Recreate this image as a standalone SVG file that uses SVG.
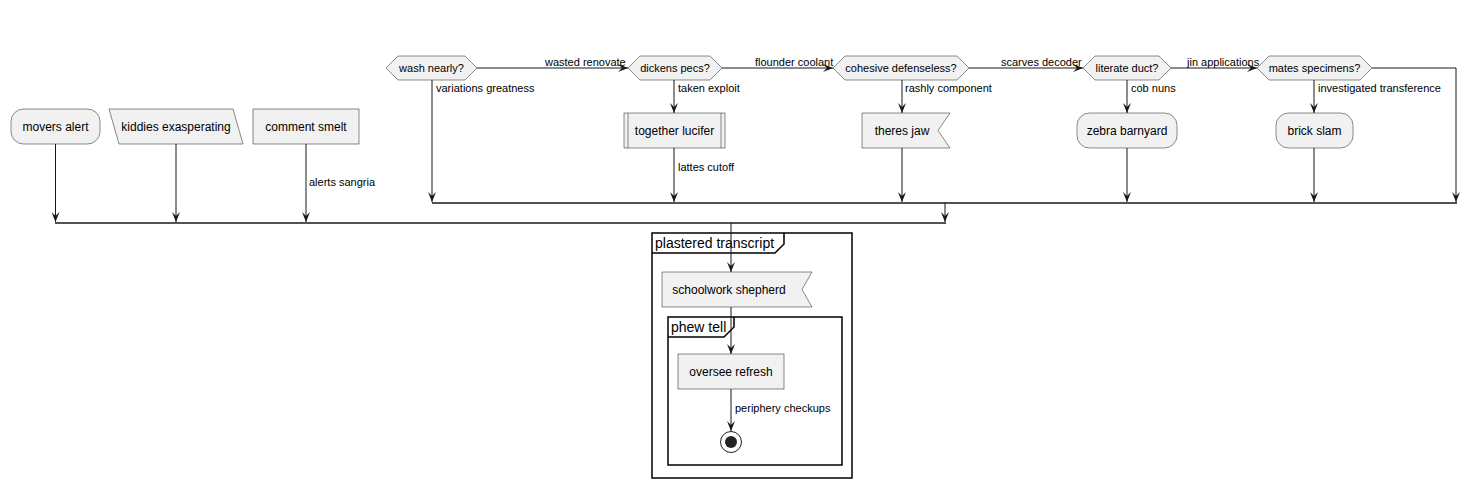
<svg xmlns="http://www.w3.org/2000/svg" width="1481" height="487" viewBox="0 0 1481 487">
<style>
.n{fill:#F1F1F1;stroke:#181818;stroke-width:0.5}
.t{font-family:"Liberation Sans",Arial,sans-serif;font-size:12px;fill:#000;text-anchor:middle}
.d{font-family:"Liberation Sans",Arial,sans-serif;font-size:11px;fill:#000;text-anchor:middle}
.l{font-family:"Liberation Sans",Arial,sans-serif;font-size:11px;fill:#000}
.e{fill:none;stroke:#181818;stroke-width:1}
.bar{fill:none;stroke:#181818;stroke-width:1.5}
.f{fill:none;stroke:#000;stroke-width:1.5}
.ft{font-family:"Liberation Sans",Arial,sans-serif;font-size:14px;fill:#000}
</style>
<defs>
<marker id="a" viewBox="0 0 10 8" refX="10" refY="4" markerWidth="10" markerHeight="8" markerUnits="userSpaceOnUse" orient="auto">
<path d="M0,0 L10,4 L0,8 L4,4 Z" fill="#181818"/>
</marker>
</defs>
<rect width="1481" height="487" fill="#fff"/>
<g id="frames">
<g id="plastered-transcript">
<rect class="f" x="652" y="233" width="200" height="245"/>
<path class="f" d="M652,253 L775,253 L784,244 L784,233"/>
<text class="ft" x="655" y="248">plastered transcript</text>
</g>
<g id="phew-tell">
<rect class="f" x="668" y="317" width="174" height="148"/>
<path class="f" d="M668,337 L724,337 L734,327 L734,317"/>
<text class="ft" x="671" y="332">phew tell</text>
</g>
</g>
<g id="connectors">
<line class="e" x1="55.5" y1="144" x2="55.5" y2="222" marker-end="url(#a)"/>
<line class="e" x1="176" y1="144" x2="176" y2="222" marker-end="url(#a)"/>
<line class="e" x1="306" y1="144" x2="306" y2="222" marker-end="url(#a)"/>
<text class="l" x="309" y="186">alerts sangria</text>
<line class="e" x1="432" y1="80" x2="432" y2="202" marker-end="url(#a)"/>
<text class="l" x="436" y="92">variations greatness</text>
<line class="e" x1="477" y1="68" x2="628" y2="68" marker-end="url(#a)"/>
<text class="l" x="545" y="66">wasted renovate</text>
<line class="e" x1="674" y1="80" x2="674" y2="113" marker-end="url(#a)"/>
<text class="l" x="678" y="92">taken exploit</text>
<line class="e" x1="674" y1="148" x2="674" y2="202" marker-end="url(#a)"/>
<text class="l" x="678" y="171">lattes cutoff</text>
<line class="e" x1="722" y1="68" x2="833" y2="68" marker-end="url(#a)"/>
<text class="l" x="755" y="66">flounder coolant</text>
<line class="e" x1="902" y1="80" x2="902" y2="113" marker-end="url(#a)"/>
<text class="l" x="905" y="92">rashly component</text>
<line class="e" x1="902" y1="148" x2="902" y2="202" marker-end="url(#a)"/>
<line class="e" x1="969" y1="68" x2="1083" y2="68" marker-end="url(#a)"/>
<text class="l" x="1001" y="66">scarves decoder</text>
<line class="e" x1="1127" y1="80" x2="1127" y2="113" marker-end="url(#a)"/>
<text class="l" x="1131" y="92">cob nuns</text>
<line class="e" x1="1127" y1="148" x2="1127" y2="202" marker-end="url(#a)"/>
<line class="e" x1="1171" y1="68" x2="1257" y2="68" marker-end="url(#a)"/>
<text class="l" x="1187" y="66">jin applications</text>
<line class="e" x1="1314" y1="80" x2="1314" y2="113" marker-end="url(#a)"/>
<text class="l" x="1318" y="92">investigated transference</text>
<line class="e" x1="1314" y1="148" x2="1314" y2="202" marker-end="url(#a)"/>
<polyline class="e" points="1372,68 1456,68 1456,202" marker-end="url(#a)"/>
<line class="bar" x1="432" y1="203" x2="1457" y2="203"/>
<line class="e" x1="945" y1="203" x2="945" y2="222" marker-end="url(#a)"/>
<line class="bar" x1="55" y1="223" x2="946" y2="223"/>
<line class="e" x1="731" y1="223" x2="731" y2="272" marker-end="url(#a)"/>
<line class="e" x1="731" y1="307" x2="731" y2="354" marker-end="url(#a)"/>
<line class="e" x1="731" y1="389" x2="731" y2="431" marker-end="url(#a)"/>
<text class="l" x="735" y="412">periphery checkups</text>
</g>
<g id="movers-alert">
<rect class="n" x="11" y="109" width="89" height="35" rx="12.5"/>
<text class="t" x="55.5" y="131">movers alert</text>
</g>
<g id="kiddies-exasperating">
<polygon class="n" points="109,109 233,109 243,144 119,144"/>
<text class="t" x="176" y="131">kiddies exasperating</text>
</g>
<g id="comment-smelt">
<rect class="n" x="253" y="109" width="106" height="35"/>
<text class="t" x="306" y="131">comment smelt</text>
</g>
<g id="wash-nearly">
<polygon class="n" points="386,68 398,56 465,56 477,68 465,80 398,80"/>
<text class="d" x="431.5" y="72">wash nearly?</text>
</g>
<g id="dickens-pecs">
<polygon class="n" points="628,68 640,56 710,56 722,68 710,80 640,80"/>
<text class="d" x="675" y="72">dickens pecs?</text>
</g>
<g id="together-lucifer">
<rect class="n" x="624" y="113" width="101" height="35"/>
<line class="n" x1="628" y1="113" x2="628" y2="148"/>
<line class="n" x1="721" y1="113" x2="721" y2="148"/>
<text class="t" x="674.5" y="135">together lucifer</text>
</g>
<g id="cohesive-defenseless">
<polygon class="n" points="833,68 845,56 957,56 969,68 957,80 845,80"/>
<text class="d" x="901" y="72">cohesive defenseless?</text>
</g>
<g id="theres-jaw">
<polygon class="n" points="862,113 950,113 938,130.5 950,148 862,148"/>
<text class="t" x="902" y="135">theres jaw</text>
</g>
<g id="literate-duct">
<polygon class="n" points="1083,68 1095,56 1159,56 1171,68 1159,80 1095,80"/>
<text class="d" x="1127" y="72">literate duct?</text>
</g>
<g id="zebra-barnyard">
<rect class="n" x="1077" y="113" width="100" height="35" rx="12.5"/>
<text class="t" x="1127" y="135">zebra barnyard</text>
</g>
<g id="mates-specimens">
<polygon class="n" points="1257,68 1269,56 1360,56 1372,68 1360,80 1269,80"/>
<text class="d" x="1314.5" y="72">mates specimens?</text>
</g>
<g id="brick-slam">
<rect class="n" x="1276" y="113" width="77" height="35" rx="12.5"/>
<text class="t" x="1314.5" y="135">brick slam</text>
</g>
<g id="schoolwork-shepherd">
<polygon class="n" points="662,272 812,272 802,289.5 812,307 662,307"/>
<text class="t" x="729" y="294">schoolwork shepherd</text>
</g>
<g id="oversee-refresh">
<rect class="n" x="678" y="354" width="106" height="35"/>
<text class="t" x="731" y="376">oversee refresh</text>
</g>
<g id="stop">
<circle cx="731" cy="442" r="10.5" fill="none" stroke="#222" stroke-width="1"/>
<circle cx="731" cy="442" r="6" fill="#222"/>
</g>
</svg>
